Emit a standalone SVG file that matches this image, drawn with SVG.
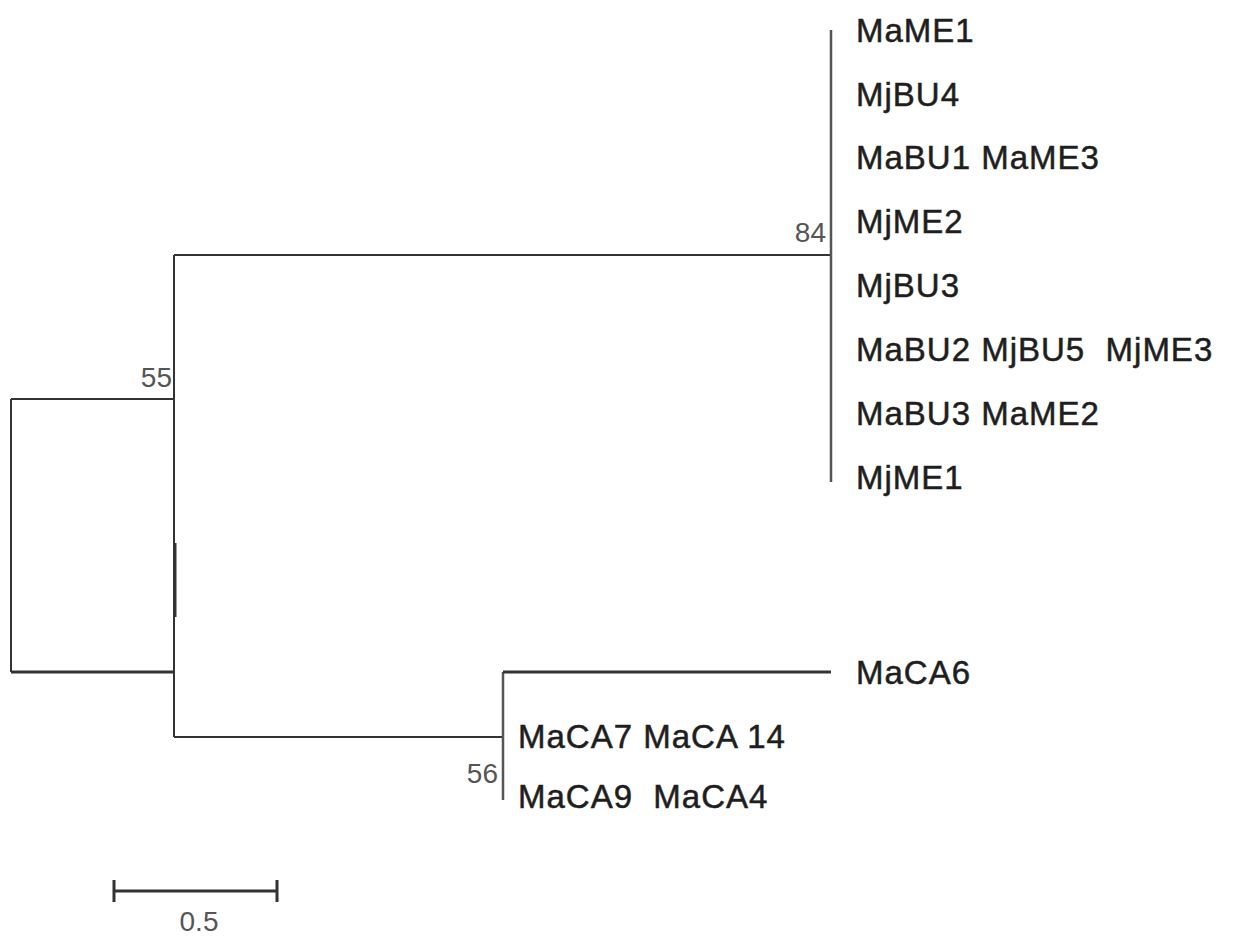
<svg xmlns="http://www.w3.org/2000/svg" width="1234" height="938" viewBox="0 0 1234 938">
<style>
.b{stroke:#333;stroke-width:2;fill:none}
.g{stroke:#555;stroke-width:2.5;fill:none}
.t{font-family:"Liberation Sans",Arial,sans-serif;font-size:33px;fill:#1e1e1e;stroke:#1e1e1e;stroke-width:0.5;letter-spacing:1px;white-space:pre}
.s{font-family:"Liberation Sans",Arial,sans-serif;font-size:28px;fill:#555}
</style>
<rect width="1234" height="938" fill="#fff"/>
<g id="connectors">
<path class="b" d="M11,399V672"/>
<path class="b" d="M11,399H174"/>
<path class="b" d="M11,672H174" style="stroke-width:3"/>
<path class="b" d="M174,255V737"/>
<path class="b" d="M175.5,543V617" style="stroke-width:2"/>
<path class="b" d="M174,255H831"/>
<path class="g" d="M831,30V482"/>
<path class="b" d="M174,737H503"/>
<path class="g" d="M503,672V800"/>
<path class="b" d="M503,672H831" style="stroke-width:3"/>
</g>
<g id="node-84"><text class="s" x="826" y="242" text-anchor="end">84</text></g>
<g id="node-55"><text class="s" x="172" y="387" text-anchor="end">55</text></g>
<g id="node-56"><text class="s" x="498" y="783" text-anchor="end">56</text></g>
<g id="leaf-MaME1"><text class="t" x="856" y="42">MaME1</text></g>
<g id="leaf-MjBU4"><text class="t" x="856" y="106">MjBU4</text></g>
<g id="leaf-MaBU1"><text class="t" x="856" y="169">MaBU1 MaME3</text></g>
<g id="leaf-MjME2"><text class="t" x="856" y="233">MjME2</text></g>
<g id="leaf-MjBU3"><text class="t" x="856" y="297">MjBU3</text></g>
<g id="leaf-MaBU2"><text class="t" x="856" y="361" xml:space="preserve">MaBU2 MjBU5  MjME3</text></g>
<g id="leaf-MaBU3"><text class="t" x="856" y="425">MaBU3 MaME2</text></g>
<g id="leaf-MjME1"><text class="t" x="856" y="489">MjME1</text></g>
<g id="leaf-MaCA6"><text class="t" x="856" y="684">MaCA6</text></g>
<g id="leaf-MaCA7"><text class="t" x="518" y="748">MaCA7 MaCA 14</text></g>
<g id="leaf-MaCA9"><text class="t" x="518" y="808" xml:space="preserve">MaCA9  MaCA4</text></g>
<g id="scale">
<path class="b" d="M114,891H277M114,880V902M277,880V902" style="stroke-width:3"/>
<text class="s" x="199" y="931" text-anchor="middle">0.5</text>
</g>
</svg>
